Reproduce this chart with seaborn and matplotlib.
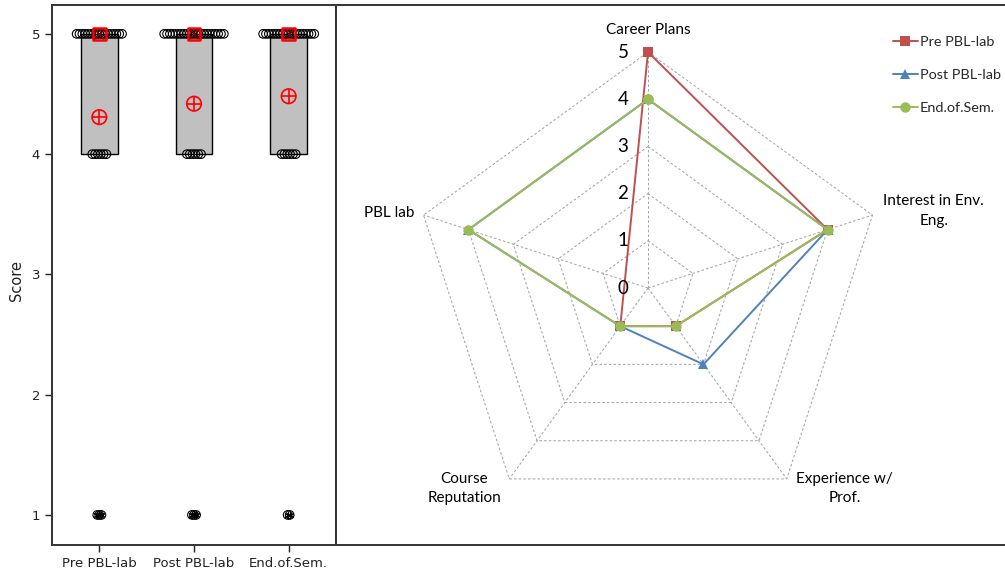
import numpy as np
import pandas as pd
import matplotlib
matplotlib.use("Agg")
import matplotlib.pyplot as plt
import seaborn as sns

# ---- score distributions: number of respondents giving each score ----
phases = ["Pre PBL-lab", "Post PBL-lab", "End.of.Sem."]
score_levels = [5, 4, 1]
pre_counts = [17, 6, 3]
post_counts = [22, 6, 3]
end_counts = [19, 6, 2]
score_ticks = [1, 2, 3, 4, 5]

# ---- radar chart: rating of each influence factor ----
factors = ["Career Plans", "Interest in Env.\nEng.", "Experience w/\nProf.",
           "Course\nReputation", "PBL lab"]
pre_radar = [5, 4, 1, 1, np.nan]      # no PBL-lab rating before the lab
post_radar = [4, 4, 2, 1, 4]
end_radar = [4, 4, 1, 1, 4]
radial_ticks = [0, 1, 2, 3, 4, 5]

series_colors = ["#C0504D", "#4F81BD", "#9BBB59"]
series_markers = ["s", "^", "o"]

sns.set_style("ticks")
plt.rcParams["font.family"] = ["DejaVu Sans"]
RADAR_FONT = ["Lato", "Roboto", "DejaVu Sans"]

W, H = 1005, 571
fig = plt.figure(figsize=(W / 100, H / 100), dpi=100)


def fbox(x0, y0, x1, y1):
    """Pixel box (origin top-left) -> figure-fraction rect."""
    return [x0 / W, 1 - y1 / H, (x1 - x0) / W, (y1 - y0) / H]


# ================= left panel: box plot with individual scores =================
rows = []
for ph, cnt in zip(phases, [pre_counts, post_counts, end_counts]):
    for s, n in zip(score_levels, cnt):
        rows += [(ph, s)] * n
scores = pd.DataFrame(rows, columns=["phase", "score"])

# spread tied scores side by side around the category centre
grp = scores.groupby(["phase", "score"])
scores["slot"] = grp.cumcount()
scores["n"] = grp["score"].transform("size")
step = np.where(scores["score"] == 1, 0.022, 0.03)
cat_index = scores["phase"].map({p: i for i, p in enumerate(phases)})
scores["xpos"] = cat_index + (scores["slot"] - (scores["n"] - 1) / 2) * step

ax_box = fig.add_axes(fbox(52, 5, 336, 545))
sns.boxplot(data=scores, x="phase", y="score", order=phases, color="#C0C0C0",
            saturation=1, width=0.39, showcaps=False, showfliers=False,
            linecolor="black", linewidth=1.0, ax=ax_box)

sns.scatterplot(data=scores, x="xpos", y="score", marker="o", s=38,
                facecolors="none", edgecolor="black", linewidth=0.8,
                legend=False, ax=ax_box, zorder=3)

# extreme values flagged with an asterisk
q1 = scores.groupby("phase")["score"].transform(lambda v: v.quantile(0.25))
q3 = scores.groupby("phase")["score"].transform(lambda v: v.quantile(0.75))
extreme = scores[scores["score"] < q1 - 1.5 * (q3 - q1)]
sns.scatterplot(data=extreme, x="xpos", y="score", marker=(6, 2, 0), s=22,
                color="black", linewidth=0.8, legend=False, ax=ax_box, zorder=4)

summary = scores.groupby("phase", sort=False)["score"].agg(["mean", "median"]).reset_index()
summary["xpos"] = summary["phase"].map({p: i for i, p in enumerate(phases)})

# mean: red circle with cross
sns.scatterplot(data=summary, x="xpos", y="mean", marker="o", s=110,
                facecolors="none", edgecolor="red", linewidth=1.2,
                legend=False, ax=ax_box, zorder=5)
sns.scatterplot(data=summary, x="xpos", y="mean", marker="+", s=110,
                color="red", linewidth=1.2, legend=False, ax=ax_box, zorder=5)
# median: red square with diagonal cross
sns.scatterplot(data=summary, x="xpos", y="median", marker="s", s=80,
                facecolors="none", edgecolor="red", linewidth=1.8,
                legend=False, ax=ax_box, zorder=5)
sns.scatterplot(data=summary, x="xpos", y="median", marker="x", s=45,
                color="#7a0000", linewidth=1.1, legend=False, ax=ax_box, zorder=6)

ax_box.set_xlim(-0.5, 2.5)
ax_box.set_ylim(0.75, 5.24)
ax_box.set_yticks(score_ticks)
ax_box.set_xticks(range(len(phases)))
ax_box.set_xticklabels(phases)
ax_box.set_xlabel("")
ax_box.set_ylabel("Score", fontsize=10.5, color="#222222")
ax_box.yaxis.set_label_coords(-0.10, 0.49)
ax_box.tick_params(axis="both", direction="out", length=5, width=1,
                   labelsize=9.5, colors="#222222")
for side in ["left", "bottom", "top", "right"]:
    ax_box.spines[side].set_visible(True)
    ax_box.spines[side].set_linewidth(1.4)
    ax_box.spines[side].set_color("#333333")

# ================= right panel: radar chart =================
ax_frame = fig.add_axes(fbox(336, 5, 1400, 545))
ax_frame.set_xticks([])
ax_frame.set_yticks([])
ax_frame.spines["right"].set_visible(False)
for side in ["left", "top", "bottom"]:
    ax_frame.spines[side].set_linewidth(1.4)
    ax_frame.spines[side].set_color("#333333")

R = 236  # pixel radius of the outer ring
cx, cy = 648, 288
ax_rad = fig.add_axes(fbox(cx - R, cy - R, cx + R, cy + R), projection="polar")
ax_rad.set_theta_zero_location("N")
ax_rad.set_theta_direction(-1)
ax_rad.set_ylim(0, radial_ticks[-1])
ax_rad.patch.set_visible(False)
ax_rad.grid(False)
ax_rad.spines["polar"].set_visible(False)
ax_rad.set_xticks([])
ax_rad.set_yticks([])

theta = np.linspace(0, 2 * np.pi, len(factors), endpoint=False)
grid_kw = dict(color="#A6A6A6", lw=0.75, ls=(0, (2.5, 2)), clip_on=False, zorder=1)
ring_theta = np.append(theta, theta[0])
for r in radial_ticks[1:]:
    ax_rad.plot(ring_theta, [r] * len(ring_theta), **grid_kw)
for t in theta:
    ax_rad.plot([t, t], [0, radial_ticks[-1]], **grid_kw)

radar = pd.DataFrame({
    "series": np.repeat(phases, len(factors)),
    "factor": factors * len(phases),
    "value": pre_radar + post_radar + end_radar,
    "theta": np.tile(theta, len(phases)),
}).dropna(subset=["value"])
closing = radar[radar["factor"] == factors[0]].assign(theta=2 * np.pi)
radar = pd.concat([radar, closing], ignore_index=True)
radar["series"] = pd.Categorical(radar["series"], categories=phases, ordered=True)
radar = radar.sort_values(["series", "theta"]).reset_index(drop=True)

sns.lineplot(data=radar, x="theta", y="value", hue="series", style="series",
             hue_order=phases, style_order=phases, palette=series_colors,
             markers=dict(zip(phases, series_markers)), dashes=False,
             sort=False, estimator=None, linewidth=1.4, markersize=7.5,
             markeredgewidth=0, clip_on=False, ax=ax_rad, zorder=3)

# radial value labels along the top spoke
for v in radial_ticks:
    ax_rad.annotate(str(v), xy=(0, v), xytext=(-25, 0), textcoords="offset pixels",
                    ha="center", va="center", fontsize=13.5, family=RADAR_FONT,
                    color="black", annotation_clip=False)

# factor labels (angle in degrees, radius)
label_pos = [(0, 5.47), (74.9, 6.27), (135.6, 5.95), (222.5, 5.76), (286.2, 5.71)]
for name, (ang, rr) in zip(factors, label_pos):
    ax_rad.text(np.deg2rad(ang), rr, name, ha="center", va="center",
                fontsize=11, family=RADAR_FONT, color="black", linespacing=1.5)

sns.move_legend(ax_rad, "upper left", bbox_to_anchor=(893 / W, 1 - 36 / H),
                bbox_transform=fig.transFigure, frameon=False, title=None,
                fontsize=10.4, handlelength=1.7, handletextpad=0.15,
                labelspacing=1.45, borderaxespad=0, borderpad=0)
for t in ax_rad.get_legend().get_texts():
    t.set_family(RADAR_FONT)

fig.savefig("out.png", dpi=100)
